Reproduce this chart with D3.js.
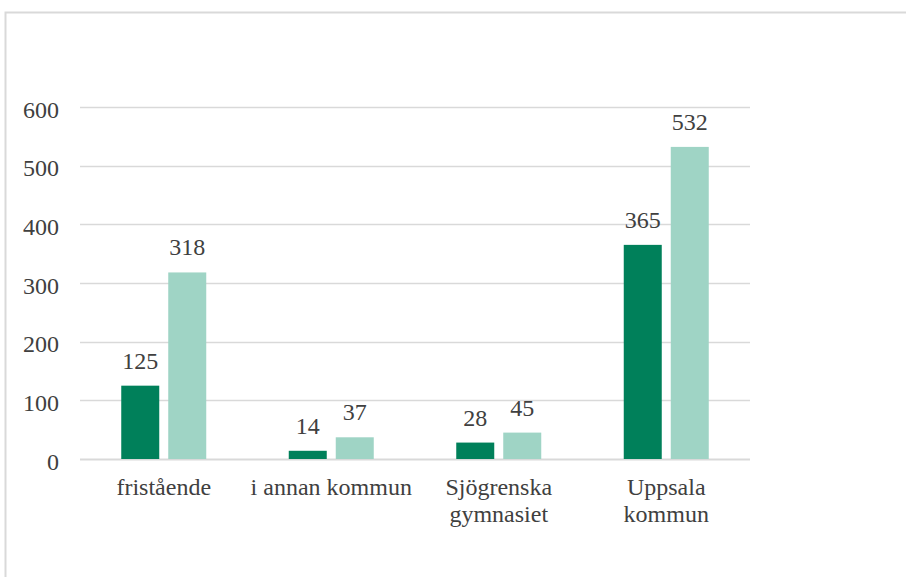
<!DOCTYPE html>
<html>
<head>
<meta charset="utf-8">
<script src="https://cdn.jsdelivr.net/npm/d3@7"></script>
<style>
  html, body { margin: 0; padding: 0; background: #fff; font-family: "Liberation Serif", serif; }
  svg { display: block; }
</style>
</head>
<body>
<div id="chart"></div>
<script>
    var categories = [["fristående"], ["i annan kommun"], ["Sjögrenska", "gymnasiet"], ["Uppsala", "kommun"]];
    var seriesA = [125, 14, 28, 365];
    var seriesB = [318, 37, 45, 532];
    var yTicks = [0, 100, 200, 300, 400, 500, 600];

(function () {
    "use strict";

    var width = 906, height = 577;
    var plotLeft = 80, plotRight = 750, plotTop = 107, plotBottom = 459;
    var colorA = "#00805A", colorB = "#9FD4C5";
    var textColor = "#404040";

    var svg = d3.select("#chart").append("svg")
        .attr("width", width)
        .attr("height", height)
        .style("font-family", "\"Liberation Serif\"")
        .style("font-size", "24px");

    // frame around the chart area
    svg.append("rect")
        .attr("x", 5.5).attr("y", 12.5)
        .attr("width", width + 10).attr("height", height + 10)
        .attr("fill", "none")
        .attr("stroke", "#D9D9D9")
        .attr("stroke-width", 2);

    var y = d3.scaleLinear().domain([0, 600]).range([plotBottom, plotTop]);
    var x = d3.scaleBand().domain(d3.range(categories.length)).range([plotLeft, plotRight]);
    var inner = d3.scaleBand().domain([0, 1]).range([-42.5, 42.5]).paddingInner(2 - 85 / 47);

    // gridlines
    svg.selectAll(".grid").data(yTicks).enter()
        .append("line")
        .attr("x1", plotLeft).attr("x2", plotRight)
        .attr("y1", function (d) { return Math.round(y(d)) + 0.5; })
        .attr("y2", function (d) { return Math.round(y(d)) + 0.5; })
        .attr("stroke", "#D9D9D9")
        .attr("stroke-width", function (d) { return d === 0 ? 2 : 1.5; });

    // y tick labels
    svg.selectAll(".ytick").data(yTicks).enter()
        .append("text")
        .attr("x", 59)
        .attr("y", function (d) { return y(d) + 10.5; })
        .attr("text-anchor", "end")
        .attr("fill", textColor)
        .style("font-family", "\"Liberation Serif\"")
        .text(function (d) { return d; });

    var rows = categories.map(function (c, i) {
        return { i: i, vals: [seriesA[i], seriesB[i]] };
    });

    var groups = svg.selectAll(".cat").data(rows).enter()
        .append("g")
        .attr("transform", function (d) { return "translate(" + (x(d.i) + x.bandwidth() / 2) + ",0)"; });

    var bars = groups.selectAll(".bar").data(function (d) { return d.vals; }).enter();

    bars.append("rect")
        .attr("x", function (d, j) { return inner(j); })
        .attr("width", inner.bandwidth())
        .attr("y", function (d) { return y(d); })
        .attr("height", function (d) { return plotBottom - y(d); })
        .attr("fill", function (d, j) { return j === 0 ? colorA : colorB; });

    bars.append("text")
        .attr("x", function (d, j) { return inner(j) + inner.bandwidth() / 2; })
        .attr("y", function (d) { return y(d) - 17; })
        .attr("text-anchor", "middle")
        .attr("fill", textColor)
        .style("font-family", "\"Liberation Serif\"")
        .text(function (d) { return d; });

    // category labels
    groups.append("text")
        .attr("text-anchor", "middle")
        .attr("fill", textColor)
        .style("font-family", "\"Liberation Serif\"")
        .selectAll("tspan")
        .data(function (d) { return categories[d.i]; })
        .enter()
        .append("tspan")
        .attr("x", 0)
        .attr("y", function (d, k) { return 495 + k * 27; })
        .text(function (d) { return d; });
})();
</script>
</body>
</html>
